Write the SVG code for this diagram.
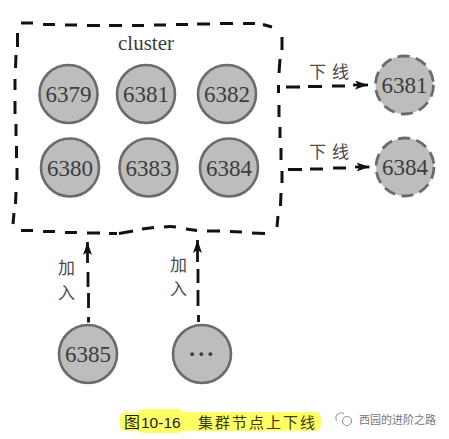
<svg xmlns="http://www.w3.org/2000/svg" width="449" height="439" viewBox="0 0 449 439">
<style>
.n{fill:#bdbdbd;stroke:#6b6b6b;stroke-width:2.6}
.d{stroke-dasharray:12 6.5;stroke-width:2.8}
.t{font-family:"Liberation Serif",serif;font-size:23px;fill:#3c3c3c;text-anchor:middle}
.c{font-family:"Noto Sans CJK SC",sans-serif;font-size:17px;fill:#4a4a4a}
.b{fill:none;stroke:#111;stroke-width:3}
.a{fill:none;stroke:#111;stroke-width:2.8}
</style>
<defs>
<marker id="h" markerUnits="userSpaceOnUse" markerWidth="14" markerHeight="10" refX="13" refY="4.500" orient="auto"><path d="M0,0L13,4.500L0,9L3,4.500Z" fill="#111"/></marker>
</defs>
<g id="cluster">
<path class="b" d="M21,23H33M43,24.500H55M65,25H77M87,25.500H100M109,25.500H122M132,25.500H144M154,25H166M176,24.500H188M197,24H210M220,23.500H233M243,23.500H255M263,24.500L272,27"/>
<path class="b" d="M282,37V50M280,59L279,73M278.500,85V93M279,105V117M280,127V138M281,148V160M282,171V183M281,193L280.500,206M278,216L277,227"/>
<path class="b" d="M17.500,33V47M16,55L15.500,68M15,79V90M15,101V114M16,124V136M16.500,146V158M17,168V180M16,192L15.500,204M14,213L13,224"/>
<path class="b" d="M21,230.500H33M43,231.500H55M65,232.500H77M87,233H100M109,233.500H117M119,233.500L133,231M142,229L154,227.500M164,227Q170,226 176,227M186,229L197,230.500M207,231H220M230,231.500L242,232M252,233L265,233.500"/>
<text x="146" y="50" font-family="Liberation Serif,serif" font-size="21" fill="#3c3c3c" text-anchor="middle">cluster</text>
</g>
<g id="n6379"><circle class="n" cx="68.500" cy="94" r="29"/><text class="t" x="68.500" y="102">6379</text></g>
<g id="n6381"><circle class="n" cx="146" cy="94" r="29"/><text class="t" x="146" y="102">6381</text></g>
<g id="n6382"><circle class="n" cx="227" cy="94" r="29"/><text class="t" x="227" y="102">6382</text></g>
<g id="n6380"><circle class="n" cx="70" cy="167.500" r="29"/><text class="t" x="70" y="175.500">6380</text></g>
<g id="n6383"><circle class="n" cx="148.500" cy="167.500" r="29"/><text class="t" x="148.500" y="175.500">6383</text></g>
<g id="n6384"><circle class="n" cx="229" cy="167.500" r="29"/><text class="t" x="229" y="175.500">6384</text></g>
<g id="off6381"><circle class="n d" cx="404.500" cy="85" r="29"/><text class="t" x="404.500" y="93">6381</text></g>
<g id="off6384"><circle class="n d" cx="405" cy="167" r="29"/><text class="t" x="405" y="175">6384</text></g>
<g id="n6385"><circle class="n" cx="88" cy="354" r="29"/><text class="t" x="88" y="362">6385</text></g>
<g id="nmore"><circle class="n" cx="202" cy="354" r="29"/><text class="t" x="202" y="362" font-size="18" letter-spacing="1.500" font-weight="bold" fill="#222">···</text></g>
<g id="connectors">
<path class="a" d="M286,87H300M308,86.500H322M332,86H345"/>
<path class="a" d="M353,85H368" marker-end="url(#h)"/>
<path class="a" d="M288,169.500H302M310,169H323M333,168H346"/>
<path class="a" d="M355,167H369.500" marker-end="url(#h)"/>
<path class="a" stroke-width="3" d="M88.500,322.500V317M88.500,308V293M88,287V272"/>
<path class="a" d="M87.500,263V242" marker-end="url(#h)"/>
<path class="a" d="M198.500,322V315M198,306V290M198,283V269"/>
<path class="a" d="M197.500,262V240" marker-end="url(#h)"/>
</g>
<g id="labels">
<text class="c" x="309" y="78" letter-spacing="6">下线</text>
<text class="c" x="309" y="158" letter-spacing="6">下线</text>
<text class="c" x="58" y="274" font-size="19">加<tspan x="58" y="299">入</tspan></text>
<text class="c" x="170" y="271" font-size="19">加<tspan x="170" y="295">入</tspan></text>
</g>
<g id="caption">
<rect x="120" y="412" width="201" height="19" rx="6" fill="#ffff66"/>
<rect x="138" y="409" width="45" height="24" rx="5" fill="#ffff66"/>
<text x="124" y="428" font-family="Noto Sans CJK SC,sans-serif" font-size="16" fill="#222">图</text>
<text x="141" y="428" font-family="Liberation Sans,sans-serif" font-size="15.500" fill="#222">10-16</text>
<text x="198" y="428" font-family="Noto Sans CJK SC,sans-serif" font-size="15" letter-spacing="2" fill="#3a3a10">集群节点上下线</text>
</g>
<g id="watermark">
<path d="M337,421A5,5 0 0 1 344,414" fill="none" stroke="#aaa" stroke-width="1.200"/>
<circle cx="347" cy="421" r="4.500" fill="none" stroke="#999" stroke-width="1.200"/>
<text x="359" y="424" font-family="Noto Sans CJK SC,sans-serif" font-size="11" fill="#777">西园的进阶之路</text>
</g>
</svg>
